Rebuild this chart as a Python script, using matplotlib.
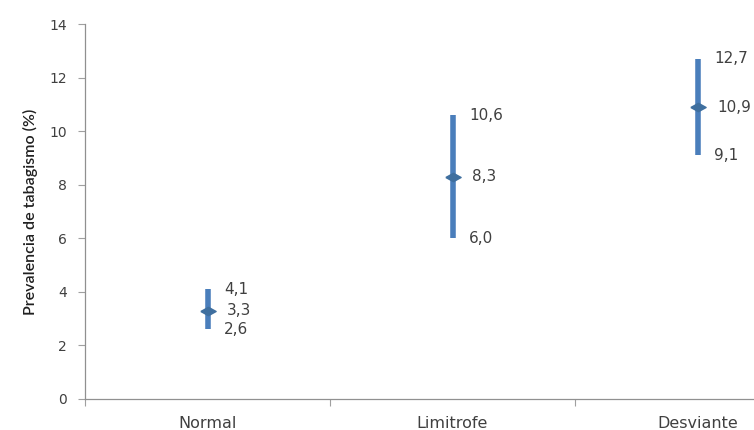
import numpy as np
import matplotlib.pyplot as plt

categorias = ['Normal', 'Limitrofe', 'Desviante']
prevalencia = [3.3, 8.3, 10.9]
ic_inf = [2.6, 6.0, 9.1]
ic_sup = [4.1, 10.6, 12.7]
y_ticks = [0, 2, 4, 6, 8, 10, 12, 14]

def fmt(v):
    return ('%.1f' % v).replace('.', ',')

fig = plt.figure(figsize=(7.54, 4.30), dpi=100)
# axes deliberately runs past the right edge, like the cropped original
ax = fig.add_axes([85 / 754, 31 / 430, 735 / 754, 375 / 430])

x = np.arange(len(categorias)) + 0.5
azul = '#4a7ebb'
rombo = [(-1, 0), (0, 0.55), (1, 0), (0, -0.55), (-1, 0)]
ax.vlines(x, ic_inf, ic_sup, color=azul, lw=4, zorder=2)
ax.plot(x, prevalencia, ls='none', marker=rombo, ms=11, color='#3f6f9f', zorder=3)

gris = '#404040'
for xi, m, lo, hi in zip(x, prevalencia, ic_inf, ic_sup):
    ax.annotate(fmt(hi), (xi, hi), xytext=(12, 0), textcoords='offset points',
                va='center', fontsize=11, color=gris)
    ax.annotate(fmt(m), (xi, m), xytext=(14, 0), textcoords='offset points',
                va='center', fontsize=11, color=gris)
    ax.annotate(fmt(lo), (xi, lo), xytext=(12, 0), textcoords='offset points',
                va='center', fontsize=11, color=gris)

ax.set_xlim(0, 3)
ax.set_ylim(0, 14)
ax.set_yticks(y_ticks)
ax.set_xticks([0, 1, 2, 3])
ax.set_xticklabels([])
ax.set_xticks(x, minor=True)
ax.set_xticklabels(categorias, minor=True, fontsize=11.5, color=gris)
ax.tick_params(axis='x', which='minor', length=0, pad=12)
ax.tick_params(axis='x', which='major', length=5, color='#a0a0a0')
ax.tick_params(axis='y', length=5, color='#a0a0a0', labelsize=10,
               labelcolor=gris, pad=8)

for s in ['top', 'right']:
    ax.spines[s].set_visible(False)
for s in ['left', 'bottom']:
    ax.spines[s].set_color('#909090')
    ax.spines[s].set_linewidth(0.9)

ax.set_ylabel('Prevalencia de tabagismo (%)', fontsize=11.5, fontweight='semibold',
              family='Lato', color='#202020', labelpad=8)

fig.savefig('out.png', dpi=100)
